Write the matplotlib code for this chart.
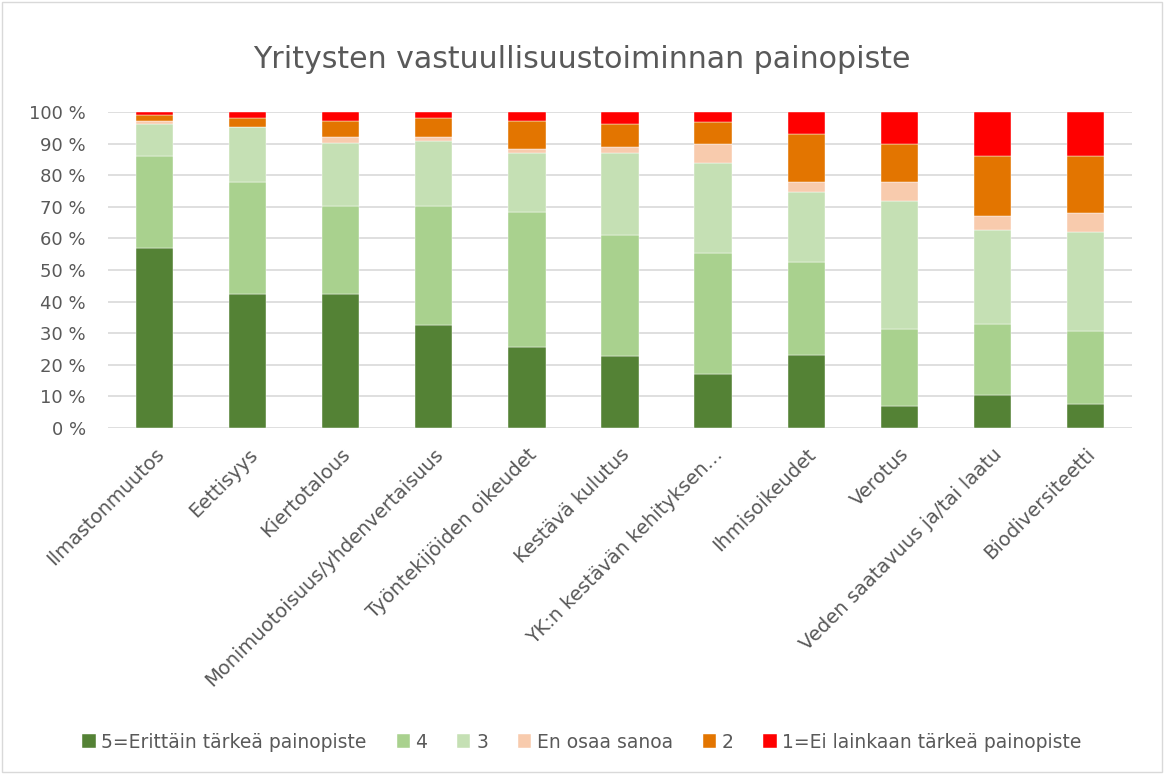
import matplotlib.pyplot as plt
import numpy as np
from matplotlib.ticker import FuncFormatter

categories = ["Ilmastonmuutos", "Eettisyys", "Kiertotalous",
              "Monimuotoisuus/yhdenvertaisuus", "Työntekijöiden oikeudet",
              "Kestävä kulutus", "YK:n kestävän kehityksen…", "Ihmisoikeudet",
              "Verotus", "Veden saatavuus ja/tai laatu", "Biodiversiteetti"]

series_names = ["5=Erittäin tärkeä painopiste", "4", "3", "En osaa sanoa", "2",
                "1=Ei lainkaan tärkeä painopiste"]

v5 = [57.1, 42.5, 42.5, 32.5, 25.5, 22.7, 17.0, 23.0, 6.9, 10.6, 7.7]
v4 = [29.0, 35.4, 27.6, 37.6, 42.7, 38.5, 38.5, 29.4, 24.3, 22.2, 23.1]
v3 = [10.0, 17.3, 20.0, 20.8, 18.9, 25.9, 28.3, 22.2, 40.6, 30.0, 31.2]
eos = [1.1, 0.0, 2.0, 1.2, 1.1, 1.9, 6.1, 3.2, 6.0, 4.2, 6.0]
v2 = [2.0, 3.0, 5.0, 6.1, 9.0, 7.2, 7.0, 15.1, 12.2, 19.1, 18.1]
v1 = [0.8, 1.8, 2.8, 1.8, 2.8, 3.8, 3.1, 7.1, 10.0, 13.9, 13.9]

colors = ["#548235", "#A9D18E", "#C5E0B4", "#F8CBAD", "#E37500", "#FF0000"]

fig = plt.figure(figsize=(11.64, 7.74), dpi=100)
ax = fig.add_axes([108 / 1164, 1 - 428 / 774, (1132 - 108) / 1164, (428 - 112) / 774])

x = np.arange(len(categories))
bottom = np.zeros(len(categories))
for name, vals, col in zip(series_names, [v5, v4, v3, eos, v2, v1], colors):
    ax.bar(x, vals, 0.4, bottom=bottom, color=col, label=name, zorder=3,
           edgecolor="white", linewidth=0.3)
    bottom += np.array(vals)

ax.set_ylim(0, 100)
ax.set_xlim(-0.5, len(categories) - 0.5)
ax.set_yticks(np.arange(0, 101, 10))
ax.yaxis.set_major_formatter(FuncFormatter(lambda v, p: f"{int(v)} %"))
ax.grid(axis="y", color="#d9d9d9", linewidth=1.2, zorder=0)
for s in ax.spines.values():
    s.set_visible(False)
ax.tick_params(axis="y", length=0, labelsize=13, colors="#595959", pad=16)
ax.tick_params(axis="x", length=0, labelsize=14, colors="#595959", pad=12)
ax.set_xticks(x)
ax.set_xticklabels(categories, rotation=45, ha="right", rotation_mode="anchor")

fig.text(0.5, 1 - 60 / 774, "Yritysten vastuullisuustoiminnan painopiste",
         ha="center", va="center", fontsize=21.6, color="#595959")

fig.legend(loc="center", bbox_to_anchor=(0.5, 1 - 742 / 774), ncol=6,
           frameon=False, fontsize=13.5, handlelength=0.7, handleheight=0.7,
           handletextpad=0.3, columnspacing=1.6, labelcolor="#595959")

fig.patches.append(plt.Rectangle((0.002, 0.002), 0.996, 0.996, transform=fig.transFigure,
                                 fill=False, edgecolor="#d9d9d9", linewidth=1))

fig.savefig("out.png", dpi=100)
